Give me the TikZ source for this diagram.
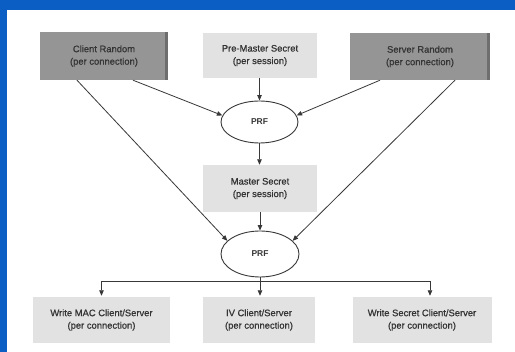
\documentclass[tikz,border=0pt]{standalone}
\usepackage{fontspec}
\setmainfont{Liberation Sans}
\newfontfamily\boxfont[FakeBold=0.9]{Liberation Sans}
\usetikzlibrary{arrows.meta,shapes.geometric}
\definecolor{bgblue}{HTML}{0B5EC4}
\definecolor{darkbox}{HTML}{959595}
\definecolor{darkedge}{HTML}{6E6E6E}
\definecolor{lightbox}{HTML}{E2E2E2}
\definecolor{linec}{HTML}{383838}
\definecolor{txt}{HTML}{353535}
\tikzset{
  boxbase/.style={rectangle, inner sep=0pt, align=center, text=txt,
    font=\boxfont\fontsize{9.4}{12.5}\selectfont},
  darkbx/.style={boxbase, fill=darkbox},
  lightbx/.style={boxbase, fill=lightbox},
  prf/.style={ellipse, draw=linec, line width=0.9pt, fill=white, inner sep=0pt,
    text=linec, font=\fontsize{8.5}{9}\selectfont\bfseries},
  arr/.style={draw=linec, line width=0.8pt, -{Triangle[length=5.5pt,width=4.5pt]}},
}
\begin{document}
\begin{tikzpicture}[x=1pt,y=-1pt]
\fill[bgblue] (0,0) rectangle (515,352);
\fill[white] (7,10) rectangle (515,352);
\useasboundingbox (0,0) rectangle (515,352);

\node[darkbx, minimum width=128pt, minimum height=48pt] (cr) at (104,56) {Client Random\\(per connection)};
\fill[darkedge] (cr.north east) ++(-3,0) rectangle (cr.south east);
\node[lightbx, minimum width=114pt, minimum height=45pt] (pm) at (260,55.5) {Pre-Master Secret\\(per session)};
\node[darkbx, minimum width=140pt, minimum height=47pt] (sr) at (420,56.5) {Server Random\\(per connection)};
\fill[darkedge] (sr.north east) ++(-3,0) rectangle (sr.south east);

\node[prf, minimum width=77pt, minimum height=42pt] (prf1) at (259.5,122) {PRF};
\node[lightbx, minimum width=114pt, minimum height=47pt] (ms) at (260,188.5) {Master Secret\\(per session)};
\node[prf, minimum width=78pt, minimum height=46pt] (prf2) at (260,254) {PRF};

\node[lightbx, minimum width=137pt, minimum height=46pt] (wm) at (101.5,320) {Write MAC Client/Server\\(per connection)};
\node[lightbx, minimum width=112pt, minimum height=46pt] (iv) at (259,320) {IV Client/Server\\(per connection)};
\node[lightbx, minimum width=139pt, minimum height=46pt] (ws) at (422,320) {Write Secret Client/Server\\(per connection)};

\draw[arr] ([xshift=29pt]cr.south) -- (prf1.170);
\draw[arr] ([xshift=-27pt]cr.south) -- (prf2.158);
\draw[arr] ([xshift=-40pt]sr.south) -- (prf1.10);
\draw[arr] ([xshift=35pt]sr.south) -- (prf2.22);
\draw[arr] (pm.south -| prf1.north) -- (prf1.north);
\draw[arr] (prf1.south) -- (ms.north -| prf1.south);
\draw[arr] (ms.south -| prf2.north) -- (prf2.north);

\coordinate (j) at ([yshift=-4pt]prf2.south);
\draw[arr, shorten >=1pt] (prf2.south) -- (iv.north -| prf2.south);
\draw[arr, shorten >=1pt] (j) -| (wm.north);
\draw[arr, shorten >=1pt] (j) -| ([xshift=8pt]ws.north);
\end{tikzpicture}
\end{document}
